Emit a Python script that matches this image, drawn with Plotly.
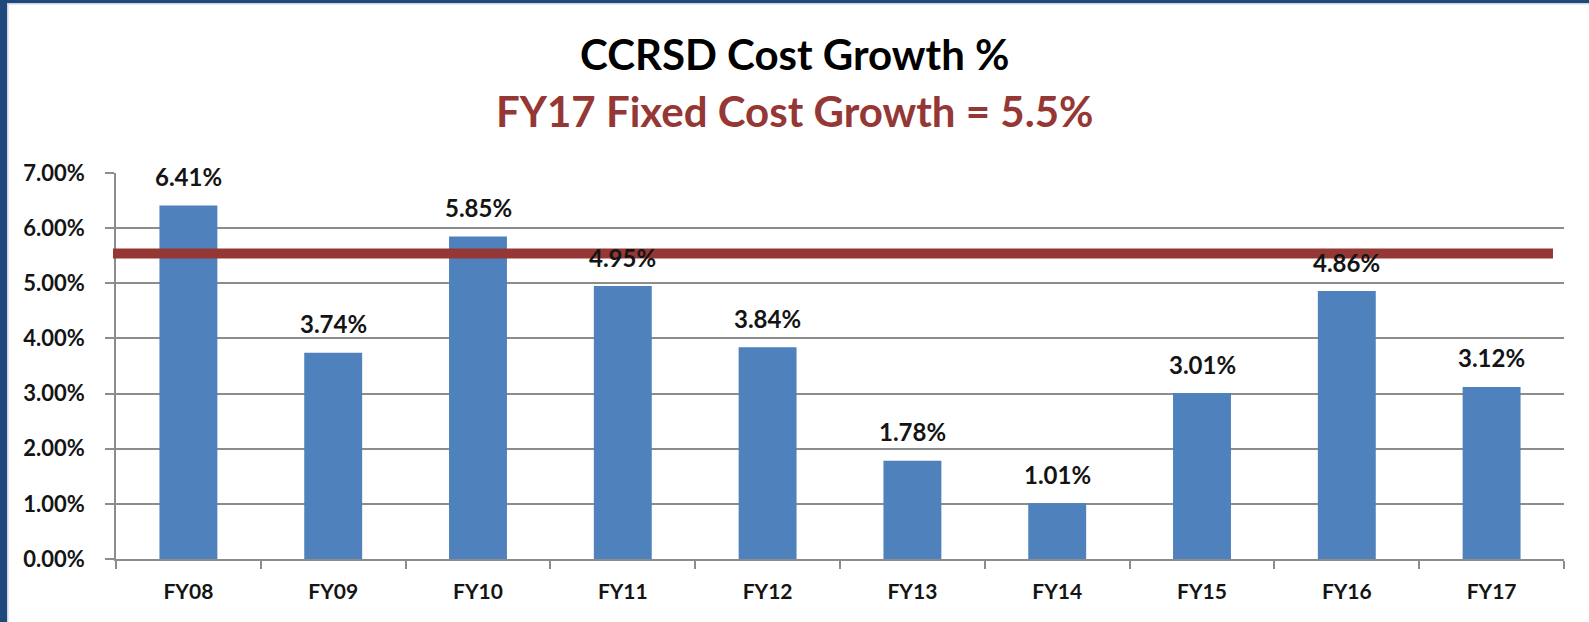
import plotly.graph_objects as go

categories = ["FY08", "FY09", "FY10", "FY11", "FY12", "FY13", "FY14", "FY15", "FY16", "FY17"]
growth_pct = [6.41, 3.74, 5.85, 4.95, 3.84, 1.78, 1.01, 3.01, 4.86, 3.12]
fixed_growth_pct = 5.54
y_ticks = [0, 1, 2, 3, 4, 5, 6, 7]
y_tick_labels = ["0.00%", "1.00%", "2.00%", "3.00%", "4.00%", "5.00%", "6.00%", "7.00%"]
title_line1 = "CCRSD Cost Growth %"
title_line2 = "FY17 Fixed Cost Growth = 5.5%"

W, H = 1589, 622
L, R, T, B = 116, 25, 173, 63
PH = H - T - B
PW = W - L - R

def py(ypx):
    return (H - B - ypx) / PH

def px(xpx):
    return (xpx - L) / PW

FONT = "Lato"
BAR = "#4F81BD"
RED = "#953735"
GRID = "#8C8C8C"
TXT = "#141414"

fig = go.Figure()
fig.add_trace(go.Bar(
    x=categories, y=growth_pct, marker=dict(color=BAR, line=dict(width=0)),
    width=0.4, hoverinfo="x+y",
))

annotations = []
for c, v in zip(categories, growth_pct):
    annotations.append(dict(
        x=c, y=v, xref="x", yref="y", text=f"{v:.2f}%", showarrow=False,
        yanchor="middle", yshift=29,
        font=dict(family=FONT, size=24, color=TXT, weight="bold"),
    ))
annotations.append(dict(
    x=px(W / 2), y=py(54), xref="paper", yref="paper", text=title_line1, showarrow=False,
    xanchor="center", yanchor="middle",
    font=dict(family=FONT, size=42, color="#000000", weight="bold"),
))
annotations.append(dict(
    x=px(W / 2), y=py(111), xref="paper", yref="paper", text=title_line2, showarrow=False,
    xanchor="center", yanchor="middle",
    font=dict(family=FONT, size=42, color=RED, weight="bold"),
))

shapes = [
    dict(type="line", xref="paper", yref="y", x0=px(113), x1=px(1553),
         y0=fixed_growth_pct, y1=fixed_growth_pct, line=dict(color=RED, width=10), layer="above"),
    dict(type="rect", xref="paper", yref="paper", x0=px(0), x1=px(7), y0=py(H), y1=py(0),
         fillcolor="#1F487C", line=dict(width=0), layer="below"),
    dict(type="rect", xref="paper", yref="paper", x0=px(7), x1=px(8.5), y0=py(H), y1=py(3),
         fillcolor="#D0D4DA", line=dict(width=0), layer="below"),
    dict(type="rect", xref="paper", yref="paper", x0=px(0), x1=px(W), y0=py(3), y1=py(0),
         fillcolor="#1F487C", line=dict(width=0), layer="below"),
    dict(type="rect", xref="paper", yref="paper", x0=px(7), x1=px(W), y0=py(4.5), y1=py(3),
         fillcolor="#D0D4DA", line=dict(width=0), layer="below"),
]

fig.update_layout(
    width=W, height=H,
    margin=dict(l=L, r=R, t=T, b=B, autoexpand=False),
    paper_bgcolor="white", plot_bgcolor="white",
    showlegend=False,
    annotations=annotations,
    shapes=shapes,
)
fig.update_xaxes(
    type="category", range=[-0.5, 9.5],
    showline=True, linecolor=GRID, linewidth=1.5,
    ticks="outside", tickson="boundaries", ticklen=8, tickcolor=GRID, tickwidth=1.5,
    showgrid=False,
    tickfont=dict(family=FONT, size=21, color=TXT, weight="bold"),
    ticklabelstandoff=13,
)
fig.update_yaxes(
    range=[0, 7], tickvals=y_ticks, ticktext=y_tick_labels,
    showline=True, linecolor=GRID, linewidth=1.5,
    ticks="outside", ticklen=9, tickcolor=GRID, tickwidth=1.5,
    showgrid=True, gridcolor=GRID, gridwidth=1.5,
    zeroline=False,
    tickfont=dict(family=FONT, size=22, color=TXT, weight="bold"),
    ticklabelstandoff=16,
)

fig.write_html(
    "out.html",
    config={"displayModeBar": False},
    post_script="document.body.style.margin='0';document.body.style.overflow='hidden';",
)
